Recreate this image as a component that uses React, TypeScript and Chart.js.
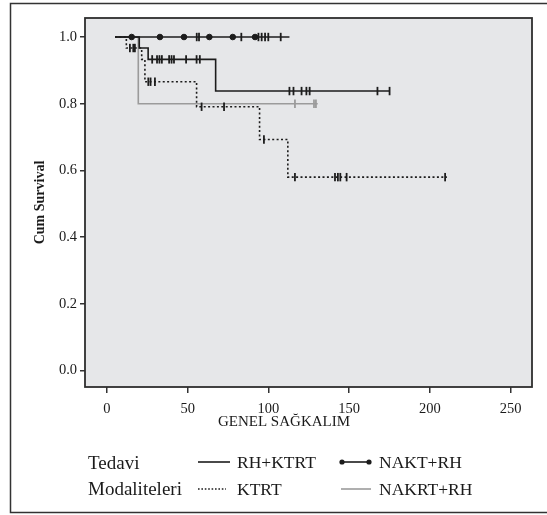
import React, { useEffect, useRef } from 'react';
import { Chart, registerables } from 'chart.js';

Chart.register(...registerables);

// ---- axis ticks ----
const xTickValues = [0, 50, 100, 150, 200, 250];
const yTickValues = [0, 0.2, 0.4, 0.6, 0.8, 1.0];

const startTime = 5;

// ---- RH+KTRT (solid black) ----
const rhKtrtEventTimes = [20, 25.5, 67.3];
const rhKtrtEventSurv = [0.967, 0.933, 0.838];
const rhKtrtCensorTimes = [28, 31, 32.5, 34, 38.5, 40, 41.5, 49, 55.5, 57.5, 113, 115.5, 120.5, 123.5, 125.5, 167.5, 175];
const rhKtrtEnd = 175;

// ---- KTRT (dotted black) ----
const ktrtEventTimes = [12, 21.5, 23.5, 55.5, 94.5, 112];
const ktrtEventSurv = [0.967, 0.933, 0.866, 0.791, 0.693, 0.58];
const ktrtCensorTimes = [14.2, 16.3, 17.3, 25.6, 27, 29.7, 58.6, 72.5, 97.2, 116.4, 141.2, 143, 144.5, 148.4, 209.4];
const ktrtEnd = 210.5;

// ---- NAKT+RH (black with dots) ----
const naktEventTimes: number[] = [];
const naktEventSurv: number[] = [];
const naktDotTimes = [15.3, 32.8, 47.7, 63.4, 77.9, 91.7];
const naktCensorTimes = [55.6, 57, 83.2, 93.8, 95.8, 97.9, 99.9, 107.6];
const naktEnd = 113;

// ---- NAKRT+RH (grey) ----
const nakrtEventTimes = [19.4];
const nakrtEventSurv = [0.8];
const nakrtCensorTimes = [116.4, 128.2, 129.4];
const nakrtEnd = 130.5;

const SERIF = '"Liberation Serif", "DejaVu Serif", serif';
const BLACK = '#1c1c1c';
const GREY = '#9b9b9b';

type Pt = { x: number; y: number; kind: string };

function buildCurve(eventT: number[], eventS: number[], censorT: number[], dotT: number[], endT: number): Pt[] {
  const items: { t: number; kind: string; s?: number }[] = [];
  eventT.forEach((t, i) => items.push({ t, kind: 'event', s: eventS[i] }));
  censorT.forEach((t) => items.push({ t, kind: 'censor' }));
  dotT.forEach((t) => items.push({ t, kind: 'dot' }));
  items.sort((a, b) => a.t - b.t || (a.kind === 'event' ? -1 : 1));
  let s = 1;
  const pts: Pt[] = [{ x: startTime, y: 1, kind: 'none' }];
  for (const it of items) {
    if (it.kind === 'event') {
      s = it.s as number;
      pts.push({ x: it.t, y: s, kind: 'none' });
    } else {
      pts.push({ x: it.t, y: s, kind: it.kind });
    }
  }
  pts.push({ x: endT, y: s, kind: 'none' });
  return pts;
}

function makeDataset(label: string, data: Pt[], color: string, dash: number[]) {
  return {
    label,
    data,
    borderColor: color,
    backgroundColor: color,
    borderWidth: 1.6,
    borderDash: dash,
    stepped: 'before' as const,
    fill: false,
    pointStyle: (c: any) => (c.raw && c.raw.kind === 'dot' ? 'circle' : 'line'),
    pointRadius: (c: any) => {
      const k = c.raw ? c.raw.kind : 'none';
      return k === 'censor' ? 4.2 : k === 'dot' ? 2.8 : 0;
    },
    pointHoverRadius: 0,
    pointRotation: (c: any) => (c.raw && c.raw.kind === 'censor' ? 90 : 0),
    pointBorderWidth: (c: any) => (c.raw && c.raw.kind === 'censor' ? 1.8 : 1),
    pointBorderColor: color,
    pointBackgroundColor: color,
  };
}

const framePlugin = {
  id: 'framePlugin',
  beforeDraw(chart: any) {
    const { ctx, chartArea: a } = chart;
    ctx.save();
    ctx.fillStyle = '#ffffff';
    ctx.fillRect(0, 0, chart.width, chart.height);
    ctx.strokeStyle = '#333333';
    ctx.lineWidth = 1.5;
    ctx.strokeRect(10.5, 3.5, 545, 509);
    ctx.fillStyle = '#e6e7e9';
    ctx.fillRect(a.left, a.top, a.right - a.left, a.bottom - a.top);
    ctx.restore();
  },
  afterDraw(chart: any) {
    const { ctx, chartArea: a } = chart;
    ctx.save();
    ctx.strokeStyle = '#2e2e2e';
    ctx.lineWidth = 1.8;
    ctx.strokeRect(a.left, a.top, a.right - a.left, a.bottom - a.top);

    // y title
    ctx.fillStyle = '#1a1a1a';
    ctx.font = `bold 14px ${SERIF}`;
    ctx.textAlign = 'center';
    ctx.textBaseline = 'middle';
    ctx.save();
    ctx.translate(40, (a.top + a.bottom) / 2);
    ctx.rotate(-Math.PI / 2);
    ctx.fillText('Cum Survival', 0, 0);
    ctx.restore();

    // x title
    ctx.font = `15px ${SERIF}`;
    ctx.fillText('GENEL SAĞKALIM', 284, 422);

    // legend
    ctx.textAlign = 'left';
    ctx.font = `19px ${SERIF}`;
    ctx.fillText('Tedavi', 88, 464);
    ctx.fillText('Modaliteleri', 88, 490);

    const row1 = 462;
    const row2 = 489;
    ctx.font = `17.5px ${SERIF}`;
    // RH+KTRT
    ctx.strokeStyle = BLACK;
    ctx.lineWidth = 1.6;
    ctx.beginPath();
    ctx.moveTo(198, row1);
    ctx.lineTo(230, row1);
    ctx.stroke();
    ctx.fillText('RH+KTRT', 237, row1 + 1);
    // NAKT+RH
    ctx.beginPath();
    ctx.moveTo(342, row1);
    ctx.lineTo(369, row1);
    ctx.stroke();
    ctx.fillStyle = BLACK;
    [342, 369].forEach((x) => {
      ctx.beginPath();
      ctx.arc(x, row1, 2.6, 0, Math.PI * 2);
      ctx.fill();
    });
    ctx.fillStyle = '#1a1a1a';
    ctx.fillText('NAKT+RH', 379, row1 + 1);
    // KTRT
    ctx.setLineDash([1.6, 1.8]);
    ctx.beginPath();
    ctx.moveTo(198, row2);
    ctx.lineTo(226, row2);
    ctx.stroke();
    ctx.setLineDash([]);
    ctx.fillText('KTRT', 237, row2 + 1);
    // NAKRT+RH
    ctx.strokeStyle = GREY;
    ctx.beginPath();
    ctx.moveTo(341, row2);
    ctx.lineTo(371, row2);
    ctx.stroke();
    ctx.fillText('NAKRT+RH', 379, row2 + 1);
    ctx.restore();
  },
};

export default function App() {
  const canvasRef = useRef<HTMLCanvasElement | null>(null);

  useEffect(() => {
    document.body.style.margin = '0';
    const canvas = canvasRef.current;
    if (!canvas) return;

    const datasets = [
      makeDataset('NAKT+RH', buildCurve(naktEventTimes, naktEventSurv, naktCensorTimes, naktDotTimes, naktEnd), BLACK, []),
      makeDataset('RH+KTRT', buildCurve(rhKtrtEventTimes, rhKtrtEventSurv, rhKtrtCensorTimes, [], rhKtrtEnd), BLACK, []),
      makeDataset('KTRT', buildCurve(ktrtEventTimes, ktrtEventSurv, ktrtCensorTimes, [], ktrtEnd), BLACK, [2, 2.4]),
      makeDataset('NAKRT+RH', buildCurve(nakrtEventTimes, nakrtEventSurv, nakrtCensorTimes, [], nakrtEnd), GREY, []),
    ];

    const chart = new Chart(canvas, {
      type: 'line',
      data: { datasets: datasets as any },
      options: {
        animation: false,
        responsive: true,
        maintainAspectRatio: false,
        events: [],
        layout: { padding: { top: 18, right: 15, left: 0, bottom: 0 } },
        plugins: {
          legend: { display: false },
          tooltip: { enabled: false },
          title: { display: false },
        },
        scales: {
          x: {
            type: 'linear',
            min: -13.6,
            max: 263.2,
            afterBuildTicks: (s: any) => {
              s.ticks = xTickValues.map((v) => ({ value: v }));
            },
            afterFit: (s: any) => {
              s.height = 128;
            },
            grid: { drawOnChartArea: false, drawTicks: true, tickLength: 6, color: '#333', lineWidth: 1.5 },
            border: { display: false },
            ticks: {
              autoSkip: false,
              maxRotation: 0,
              padding: 7,
              color: '#1a1a1a',
              font: { family: SERIF, size: 14.5 },
              callback: (v: any) => String(v),
            },
          },
          y: {
            type: 'linear',
            min: -0.049,
            max: 1.057,
            afterBuildTicks: (s: any) => {
              s.ticks = yTickValues.map((v) => ({ value: v }));
            },
            afterFit: (s: any) => {
              s.width = 85;
            },
            grid: { drawOnChartArea: false, drawTicks: true, tickLength: 5, color: '#333', lineWidth: 1.5 },
            border: { display: false },
            ticks: {
              autoSkip: false,
              padding: 3,
              color: '#1a1a1a',
              font: { family: SERIF, size: 14.5 },
              callback: (v: any) => Number(v).toFixed(1),
            },
          },
        },
      },
      plugins: [framePlugin],
    });

    return () => {
      chart.destroy();
    };
  }, []);

  return (
    <div style={{ position: 'relative', width: 547, height: 515 }}>
      <canvas ref={canvasRef} />
    </div>
  );
}
